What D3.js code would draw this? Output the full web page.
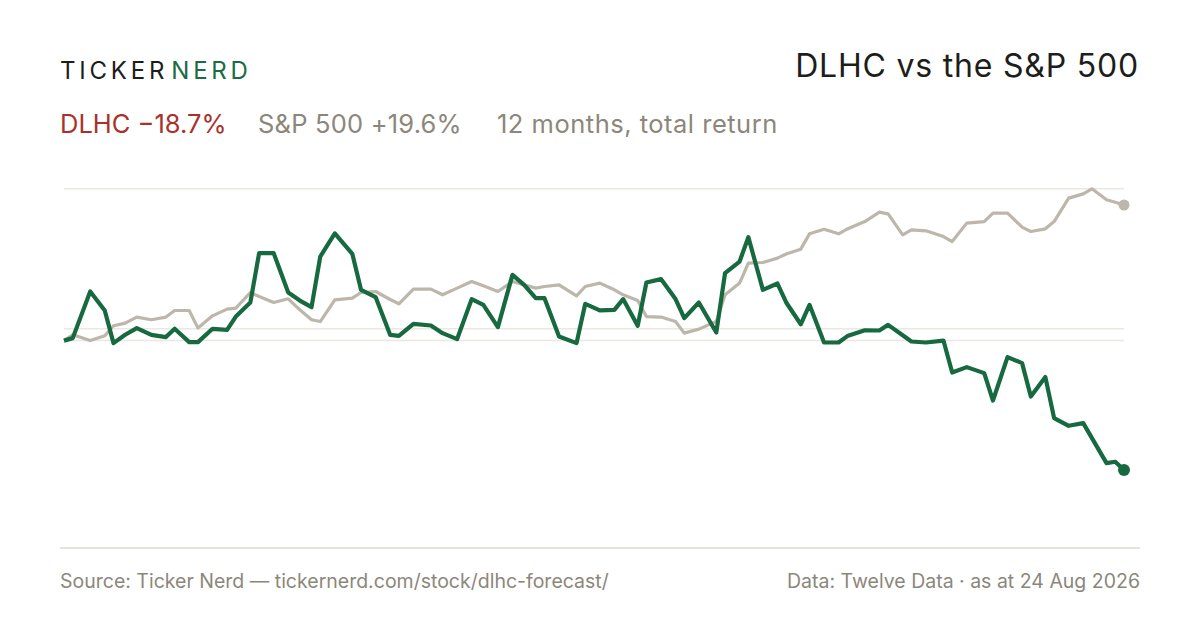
<!DOCTYPE html>
<html>
<head>
<meta charset="utf-8">
<script src="https://cdn.jsdelivr.net/npm/d3@7"></script>
<style>
  body { margin: 0; background: #fff; }
  svg { display: block; font-family: Inter, "Noto Sans", sans-serif; }
</style>
</head>
<body>
<script>
const W = 1200, H = 630;

// data: days since 25 Aug 2025, % total return
const startDate = new Date(2025, 7, 25);
const dayOffsets = [0, 3, 9, 14, 17, 21, 25, 30, 35, 38, 43, 46, 51, 56, 59, 64, 67, 72, 77, 81,
  85, 88, 93, 99, 102, 107, 112, 115, 120, 126, 130, 135, 140, 144, 149, 154, 158, 162, 165, 170,
  176, 179, 184, 189, 192, 197, 200, 205, 210, 213, 218, 224, 227, 232, 235, 240, 245, 248, 253, 256,
  261, 266, 269, 275, 280, 283, 288, 291, 296, 302, 305, 310, 316, 319, 324, 329, 332, 337, 340, 345,
  350, 353, 358, 361, 364];
const dlhc = [0, 0.36, 7.1, 4.35, -0.36, 0.84, 1.81, 0.84, 0.51, 1.71, -0.22, -0.22, 1.71, 1.56, 3.48,
  5.51, 12.64, 12.64, 6.95, 5.79, 4.84, 12.15, 15.5, 12.54, 7.34, 6.29, 0.84, 0.69, 2.43, 2.18,
  1.08, 0.22, 6.0, 5.17, 1.95, 9.51, 8.06, 6.14, 6.14, 0.59, -0.36, 5.32, 4.38, 4.45, 6.0,
  2.14, 8.4, 8.89, 6.0, 3.25, 5.51, 1.17, 9.75, 11.43, 14.96, 7.34, 8.25, 5.51, 2.36, 5.17,
  -0.27, -0.27, 0.65, 1.49, 1.46, 2.28, 0.78, -0.13, -0.27, 0.01, -4.61, -3.83, -4.7, -8.66, -2.38,
  -3.25, -8.08, -5.27, -11.2, -12.31, -11.92, -14.09, -17.7, -17.51, -18.7];
const spx = [0, 0.84, 0.01, 0.69, 2.14, 2.53, 3.4, 3.01, 3.4, 4.35, 4.35, 1.81, 3.58, 4.55, 4.7,
  6.95, 6.37, 5.51, 6.04, 4.45, 3.01, 2.76, 5.9, 6.14, 6.95, 7.1, 5.94, 5.32, 7.44, 7.44,
  6.62, 7.59, 8.54, 7.92, 7.1, 8.54, 8.06, 7.59, 7.82, 8.06, 6.47, 7.82, 8.31, 7.34, 6.62,
  5.79, 3.48, 3.4, 2.76, 1.08, 1.66, 2.76, 6.62, 8.31, 11.2, 11.29, 11.92, 12.51, 13.22, 15.43,
  16.11, 15.43, 16.14, 17.21, 18.57, 18.32, 15.29, 16.01, 15.87, 15.04, 14.32, 16.98, 17.21, 18.42, 18.42,
  16.4, 15.77, 16.16, 17.21, 20.59, 21.21, 21.94, 20.35, 19.99, 19.6];
const gridValues = [21.94, 1.7, 0];

const dates = dayOffsets.map(d => d3.timeDay.offset(startDate, d));

const svg = d3.select("body").append("svg")
  .attr("width", W)
  .attr("height", H);

svg.append("rect").attr("width", W).attr("height", H).attr("fill", "#fff");

// header
const logo = svg.append("text")
  .attr("x", 60).attr("y", 79)
  .attr("font-size", 24)
  .attr("letter-spacing", 3.8)
  .attr("font-weight", 400);
logo.append("tspan").attr("fill", "#1d1d1b").text("TICKER");
logo.append("tspan").attr("fill", "#1b6b43").attr("dx", 3).text("NERD");

svg.append("text")
  .attr("x", 1139).attr("y", 77)
  .attr("text-anchor", "end")
  .attr("font-size", 32)
  .attr("letter-spacing", 0.8)
  .attr("fill", "#1d1d1b")
  .text("DLHC vs the S&P 500");

const sub = svg.append("text")
  .attr("y", 133)
  .attr("font-size", 25.5);
sub.append("tspan").attr("x", 60).attr("fill", "#a8322a").text("DLHC \u221218.7%");
sub.append("tspan").attr("x", 258).attr("fill", "#8c877b")
  .attr("letter-spacing", 0.2).text("S&P 500 +19.6%");
sub.append("tspan").attr("x", 497).attr("fill", "#8c877b")
  .attr("letter-spacing", 0.5).text("12 months, total return");

// scales
const x = d3.scaleTime()
  .domain(d3.extent(dates))
  .range([64, 1124]);

const y = d3.scaleLinear()
  .domain([-18.7, 19.6])
  .range([470, 205]);

svg.append("g")
  .selectAll("line")
  .data(gridValues)
  .join("line")
  .attr("x1", 64).attr("x2", 1124)
  .attr("y1", d => y(d)).attr("y2", d => y(d))
  .attr("stroke", "#ebe8e2")
  .attr("stroke-width", 1.5);

const line = d3.line()
  .x((d, i) => x(dates[i]))
  .y(d => y(d));

svg.append("path")
  .datum(spx)
  .attr("d", line)
  .attr("fill", "none")
  .attr("stroke", "#bdb6ab")
  .attr("stroke-width", 3.2)
  .attr("stroke-linejoin", "round");

svg.append("path")
  .datum(dlhc)
  .attr("d", line)
  .attr("fill", "none")
  .attr("stroke", "#176a40")
  .attr("stroke-width", 4.2)
  .attr("stroke-linejoin", "round");

const last = dates.length - 1;
svg.append("circle")
  .attr("cx", x(dates[last])).attr("cy", y(spx[last]))
  .attr("r", 5.5).attr("fill", "#bdb6ab");
svg.append("circle")
  .attr("cx", x(dates[last])).attr("cy", y(dlhc[last]))
  .attr("r", 6).attr("fill", "#176a40");

// footer
svg.append("line")
  .attr("x1", 60).attr("x2", 1140)
  .attr("y1", 548).attr("y2", 548)
  .attr("stroke", "#dedad1")
  .attr("stroke-width", 1.5);

svg.append("text")
  .attr("x", 60).attr("y", 588)
  .attr("font-size", 19.5)
  .attr("fill", "#8c877b")
  .text("Source: Ticker Nerd \u2014 tickernerd.com/stock/dlhc-forecast/");

svg.append("text")
  .attr("x", 1140).attr("y", 588)
  .attr("text-anchor", "end")
  .attr("font-size", 19.5)
  .attr("fill", "#8c877b")
  .text("Data: Twelve Data \u00b7 as at 24 Aug 2026");
</script>
</body>
</html>
